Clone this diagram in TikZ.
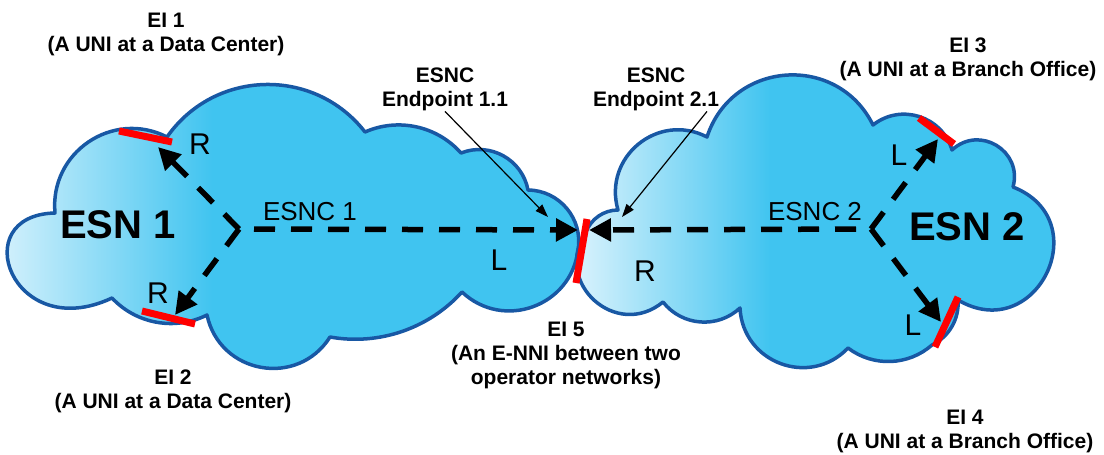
\documentclass[tikz,border=0pt]{standalone}
\usepackage{fontspec}
\setmainfont{Liberation Sans}
\usetikzlibrary{calc,arrows.meta}
\definecolor{cloudC}{RGB}{64,196,240}
\definecolor{cloudL}{RGB}{236,248,254}
\definecolor{cloudEdge}{RGB}{24,88,164}
\pgfdeclarehorizontalshading{cloudshade}{100bp}{color(0bp)=(cloudL); color(25bp)=(cloudL); color(45bp)=(cloudC); color(100bp)=(cloudC)}
\begin{document}
\begin{tikzpicture}[x=1pt,y=-1pt,
  lobe/.style n args={3}{insert path={
    let \p1=(#1), \p2=(#2), \n1={veclen((\x2)-(\x1),(\y2)-(\y1))},
        \n2={2*(#3)/\n1}, \n3={(\n2*\n2-1)/3}, \n4={4/3*(#3)/\n1} in
    .. controls ({(\x1)-\n4*((\y2)-(\y1))+\n3*((\x1)-(\x2))},{(\y1)+\n4*((\x2)-(\x1))+\n3*((\y1)-(\y2))})
       and ({(\x2)-\n4*((\y2)-(\y1))+\n3*((\x2)-(\x1))},{(\y2)+\n4*((\x2)-(\x1))+\n3*((\y2)-(\y1))}) .. (#2)}},
  cloud/.style={draw=cloudEdge, line width=3.5pt, shading=cloudshade, line join=round},
  lbl/.style={font=\bfseries\fontsize{21}{24}\selectfont, align=center, inner sep=0pt},
  esn/.style={font=\bfseries\fontsize{40}{48}\selectfont, inner sep=0pt},
  tag/.style={font=\fontsize{30}{36}\selectfont, inner sep=0pt},
  esnc/.style={font=\fontsize{26}{30}\selectfont, inner sep=0pt},
  bar/.style={draw=red, line width=7pt},
  flow/.style={line width=5.5pt, dash pattern=on 21pt off 16pt, -{Triangle[length=22pt,width=22pt]}},
  pointer/.style={line width=1.2pt, -{Triangle[length=13pt,width=9pt]}}
]
\useasboundingbox (0,0) rectangle (1104,455);

% cloud ESN 1
\shadedraw[cloud] (55,213)
  [lobe={55,213}{167,137}{40}] [lobe={167,137}{365,132}{50}]
  [lobe={365,132}{461,153}{16}] [lobe={461,153}{528,190}{18}]
  [lobe={528,190}{578,250}{18}] [lobe={578,250}{462,292}{38}]
  [lobe={462,292}{330,337}{18}] [lobe={330,337}{207,315}{42}]
  [lobe={207,315}{112,298}{16}]
  .. controls (12,345) and (-35,215) .. (55,213) -- cycle;
% cloud ESN 2
\shadedraw[cloud] (618,210)
  [lobe={618,210}{707,137}{38}] [lobe={707,137}{873,125}{56}]
  [lobe={873,125}{952,150}{22}] [lobe={952,150}{1013,187}{27}]
  [lobe={1013,187}{958,300}{68}] [lobe={958,300}{932,345}{8}]
  [lobe={932,345}{848,348}{15}] [lobe={848,348}{740,308}{38}]
  [lobe={740,308}{663,302}{17}] [lobe={663,302}{586,232}{45}]
  [lobe={586,232}{618,210}{6}] -- cycle;

% points
\coordinate (h1) at (239,229);
\coordinate (h2) at (871,229);
\coordinate (t1) at (158,147);
\coordinate (t2) at (175,315);
\coordinate (t5a) at (578,230);
\coordinate (t5b) at (589,230);
\coordinate (t3) at (938,139);
\coordinate (t4) at (941,322);
\coordinate (p11) at (548,217);
\coordinate (p21) at (622,217);
\coordinate (b1a) at (119,131); \coordinate (b1b) at (172,142);
\coordinate (b2a) at (142,311); \coordinate (b2b) at (195,324);
\coordinate (b5a) at (587,219); \coordinate (b5b) at (576,283);
\coordinate (b3a) at (919,118); \coordinate (b3b) at (954,144);
\coordinate (b4a) at (958,297); \coordinate (b4b) at (935,347);

% texts
\node[esn] (esn1) at (118,225) {ESN 1};
\node[esn] (esn2) at (967,227) {ESN 2};
\node[esnc] (esnc1) at (310,212) {ESNC 1};
\node[esnc] (esnc2) at (815,212) {ESNC 2};
\node[tag] (r1) at (200,144) {R};
\node[tag] (r2) at (158,293) {R};
\node[tag] (l1) at (499,260) {L};
\node[tag] (r3) at (645,271) {R};
\node[tag] (l3) at (899,155) {L};
\node[tag] (l4) at (913,325) {L};
\node[lbl, anchor=north] (ei1) at (166,13) {EI 1\\(A UNI at a Data Center)};
\node[lbl, anchor=north] (ei2) at (173,370) {EI 2\\(A UNI at a Data Center)};
\node[lbl, anchor=north] (ep1) at (445,68) {ESNC\\Endpoint 1.1};
\node[lbl, anchor=north] (ep2) at (656,68) {ESNC\\Endpoint 2.1};
\node[lbl, anchor=north] (ei3) at (968,38) {EI 3\\(A UNI at a Branch Office)};
\node[lbl, anchor=north] (ei4) at (965,410) {EI 4\\(A UNI at a Branch Office)};
\node[lbl, anchor=north] (ei5) at (566,322) {EI 5\\(An E-NNI between two\\operator networks)};

% flows
\draw[flow] (h1) -- (t1);
\draw[flow] (h1) -- (t2);
\draw[flow, dash phase=22pt] (h1) -- (t5a);
\draw[flow, dash phase=22pt] (h2) -- (t5b);
\draw[flow] (h2) -- (t3);
\draw[flow] (h2) -- (t4);

% pointers
\draw[pointer] (ep1.south) -- (p11);
\draw[pointer] ($(ep2.south)+(51,0)$) -- (p21);

% interfaces
\draw[bar] (b1a) -- (b1b);
\draw[bar] (b2a) -- (b2b);
\draw[bar] (b5a) -- (b5b);
\draw[bar] (b3a) -- (b3b);
\draw[bar] (b4a) -- (b4b);
\end{tikzpicture}
\end{document}
